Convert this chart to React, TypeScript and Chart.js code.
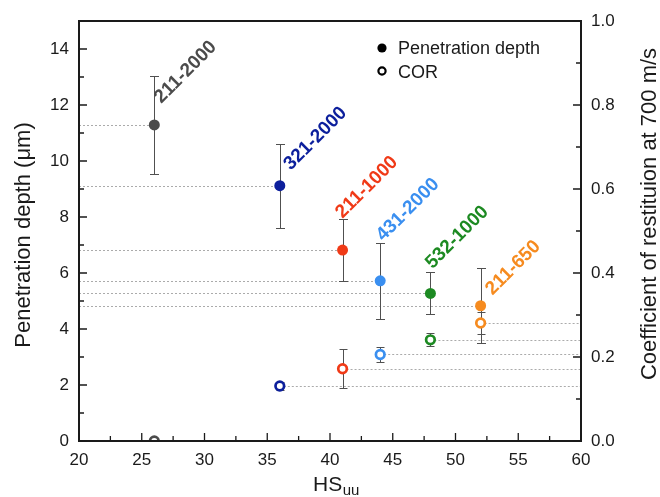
import { useEffect, useRef } from "react";
import { Chart, registerables } from "chart.js";

Chart.register(...registerables);

// ---- data ----
const sampleLabels = ["211-2000", "321-2000", "211-1000", "431-2000", "532-1000", "211-650"];
const hsValues = [26, 36, 41, 44, 48, 52];
const penetrationDepth = [11.29, 9.12, 6.82, 5.72, 5.27, 4.83];
const penetrationErr = [1.75, 1.5, 1.12, 1.35, 0.75, 1.34];
const corValues = [0.0, 0.131, 0.172, 0.206, 0.241, 0.281];
const corErr = [0, 0.01, 0.046, 0.017, 0.015, 0.026];
const seriesColors = ["#4b4b4b", "#0c1f9c", "#f03a17", "#3a8ff0", "#1d8a22", "#f68b1f"];
const xTickValues = [20, 25, 30, 35, 40, 45, 50, 55, 60];
const yTickValues = [0, 2, 4, 6, 8, 10, 12, 14];
const y1TickValues = [0, 0.2, 0.4, 0.6, 0.8, 1.0];
// pixel offsets of the rotated sample labels from their points
const labelOffsets = [
  [7, -21],
  [11, -15],
  [0, -31],
  [3, -39],
  [2, -24],
  [12, -10],
];

const FONT = "'Liberation Sans', Arial, Helvetica, sans-serif";
const INK = "#1a1a1a";

function midpoints(arr: number[]) {
  const out: number[] = [];
  for (let i = 0; i < arr.length - 1; i++) out.push((arr[i] + arr[i + 1]) / 2);
  return out;
}

const decor = {
  id: "decor",
  beforeDatasetsDraw(chart: any) {
    const { ctx, chartArea: a, scales } = chart;
    const xs = scales.x, ys = scales.y, y1s = scales.y1;
    ctx.save();
    ctx.beginPath();
    ctx.rect(a.left, a.top, a.right - a.left, a.bottom - a.top);
    ctx.clip();
    // dotted guide lines
    ctx.setLineDash([2, 2]);
    ctx.strokeStyle = "#ababab";
    ctx.lineWidth = 1;
    hsValues.forEach((h, i) => {
      const px = xs.getPixelForValue(h);
      const py = Math.round(ys.getPixelForValue(penetrationDepth[i])) + 0.5;
      ctx.beginPath();
      ctx.moveTo(a.left, py);
      ctx.lineTo(px, py);
      ctx.stroke();
      const cy = Math.round(y1s.getPixelForValue(corValues[i])) + 0.5;
      ctx.beginPath();
      ctx.moveTo(px, cy);
      ctx.lineTo(a.right, cy);
      ctx.stroke();
    });
    ctx.setLineDash([]);
    // error bars
    ctx.strokeStyle = "#505050";
    ctx.lineWidth = 1;
    const bar = (px: number, top: number, bot: number, cap: number) => {
      const x = Math.round(px) + 0.5;
      const t = Math.round(top) + 0.5;
      const b = Math.round(bot) + 0.5;
      ctx.beginPath();
      ctx.moveTo(x, t);
      ctx.lineTo(x, b);
      ctx.moveTo(x - cap, t);
      ctx.lineTo(x + cap, t);
      ctx.moveTo(x - cap, b);
      ctx.lineTo(x + cap, b);
      ctx.stroke();
    };
    hsValues.forEach((h, i) => {
      const px = xs.getPixelForValue(h);
      if (penetrationErr[i] > 0)
        bar(
          px,
          ys.getPixelForValue(penetrationDepth[i] + penetrationErr[i]),
          ys.getPixelForValue(penetrationDepth[i] - penetrationErr[i]),
          4.5
        );
      if (corErr[i] > 0)
        bar(
          px,
          y1s.getPixelForValue(corValues[i] + corErr[i]),
          y1s.getPixelForValue(corValues[i] - corErr[i]),
          4
        );
    });
    ctx.restore();
  },
  afterDatasetsDraw(chart: any) {
    const { ctx, chartArea: a, scales } = chart;
    const xs = scales.x, ys = scales.y, y1s = scales.y1;
    ctx.save();
    // frame
    ctx.strokeStyle = INK;
    ctx.lineWidth = 2;
    ctx.strokeRect(a.left, a.top, a.right - a.left, a.bottom - a.top);
    // inward ticks
    ctx.lineWidth = 1.3;
    const major = 8, minor = 5;
    ctx.beginPath();
    xTickValues.forEach((v) => {
      const p = xs.getPixelForValue(v);
      ctx.moveTo(p, a.bottom);
      ctx.lineTo(p, a.bottom - major);
    });
    midpoints(xTickValues).forEach((v) => {
      const p = xs.getPixelForValue(v);
      ctx.moveTo(p, a.bottom);
      ctx.lineTo(p, a.bottom - minor);
    });
    yTickValues.forEach((v) => {
      const p = ys.getPixelForValue(v);
      ctx.moveTo(a.left, p);
      ctx.lineTo(a.left + major, p);
    });
    midpoints(yTickValues).forEach((v) => {
      const p = ys.getPixelForValue(v);
      ctx.moveTo(a.left, p);
      ctx.lineTo(a.left + minor, p);
    });
    y1TickValues.forEach((v) => {
      const p = y1s.getPixelForValue(v);
      ctx.moveTo(a.right, p);
      ctx.lineTo(a.right - major, p);
    });
    midpoints(y1TickValues).forEach((v) => {
      const p = y1s.getPixelForValue(v);
      ctx.moveTo(a.right, p);
      ctx.lineTo(a.right - minor, p);
    });
    ctx.stroke();

    // rotated sample labels
    ctx.font = `bold 19px ${FONT}`;
    ctx.textAlign = "left";
    ctx.textBaseline = "alphabetic";
    hsValues.forEach((h, i) => {
      const px = xs.getPixelForValue(h) + labelOffsets[i][0];
      const py = ys.getPixelForValue(penetrationDepth[i]) + labelOffsets[i][1];
      ctx.save();
      ctx.translate(px, py);
      ctx.rotate(-Math.PI / 4);
      ctx.fillStyle = seriesColors[i];
      ctx.fillText(sampleLabels[i], 0, 0);
      ctx.restore();
    });

    // legend
    const lx = a.right - 199;
    ctx.fillStyle = "#000";
    ctx.beginPath();
    ctx.arc(lx, 48, 4.6, 0, Math.PI * 2);
    ctx.fill();
    ctx.strokeStyle = "#000";
    ctx.lineWidth = 2.2;
    ctx.beginPath();
    ctx.arc(lx, 71, 3.6, 0, Math.PI * 2);
    ctx.stroke();
    ctx.font = `18px ${FONT}`;
    ctx.fillStyle = INK;
    ctx.fillText("Penetration depth", lx + 16, 54);
    ctx.fillText("COR", lx + 16, 77.5);

    // axis titles
    ctx.font = `21px ${FONT}`;
    ctx.fillStyle = INK;
    ctx.textAlign = "left";
    const hsW = ctx.measureText("HS").width;
    ctx.font = `15px ${FONT}`;
    const uuW = ctx.measureText("uu").width;
    const startX = (a.left + a.right) / 2 + 6 - (hsW + uuW) / 2;
    ctx.font = `21px ${FONT}`;
    ctx.fillText("HS", startX, 491);
    ctx.font = `15px ${FONT}`;
    ctx.fillText("uu", startX + hsW + 0.5, 495);

    ctx.font = `22px ${FONT}`;
    ctx.textAlign = "center";
    ctx.save();
    ctx.translate(30, 235);
    ctx.rotate(-Math.PI / 2);
    ctx.fillText("Penetration depth (\u03bcm)", 0, 0);
    ctx.restore();
    ctx.save();
    ctx.translate(656, 214);
    ctx.rotate(-Math.PI / 2);
    ctx.fillText("Coefficient of restituion at 700 m/s", 0, 0);
    ctx.restore();
    ctx.restore();
  },
};

export default function App() {
  const ref = useRef<HTMLCanvasElement>(null);
  useEffect(() => {
    const tickFont = { family: FONT, size: 17 };
    const chart = new Chart(ref.current as HTMLCanvasElement, {
      type: "scatter",
      data: {
        datasets: [
          {
            label: "Penetration depth",
            data: hsValues.map((h, i) => ({ x: h, y: penetrationDepth[i] })),
            yAxisID: "y",
            pointRadius: 5.5,
            pointBackgroundColor: seriesColors,
            pointBorderColor: seriesColors,
            pointBorderWidth: 0,
            showLine: false,
          },
          {
            label: "COR",
            data: hsValues.map((h, i) => ({ x: h, y: corValues[i] })),
            yAxisID: "y1",
            pointRadius: 4.3,
            pointBackgroundColor: "#ffffff",
            pointBorderColor: seriesColors,
            pointBorderWidth: 2.7,
            showLine: false,
            clip: 0,
          },
        ],
      },
      options: {
        responsive: false,
        animation: false,
        events: [],
        layout: { padding: { top: 21, left: 0, right: 0, bottom: 0 } },
        plugins: { legend: { display: false }, tooltip: { enabled: false } },
        scales: {
          x: {
            type: "linear",
            position: "bottom",
            min: 20,
            max: 60,
            grid: { display: false, drawTicks: false },
            border: { display: false },
            ticks: { font: tickFont, color: INK, padding: 9 },
            afterBuildTicks: (s: any) => {
              s.ticks = xTickValues.map((v) => ({ value: v }));
            },
            afterFit: (s: any) => {
              s.height = 56;
            },
          },
          y: {
            type: "linear",
            position: "left",
            min: 0,
            max: 15,
            grid: { display: false, drawTicks: false },
            border: { display: false },
            ticks: { font: tickFont, color: INK, padding: 10 },
            afterBuildTicks: (s: any) => {
              s.ticks = yTickValues.map((v) => ({ value: v }));
            },
            afterFit: (s: any) => {
              s.width = 79;
            },
          },
          y1: {
            type: "linear",
            position: "right",
            min: 0,
            max: 1,
            grid: { display: false, drawTicks: false },
            border: { display: false },
            ticks: {
              font: tickFont,
              color: INK,
              padding: 10,
              callback: (v: any) => Number(v).toFixed(1),
            },
            afterBuildTicks: (s: any) => {
              s.ticks = y1TickValues.map((v) => ({ value: v }));
            },
            afterFit: (s: any) => {
              s.width = 79;
            },
          },
        },
      },
      plugins: [decor],
    } as any);
    return () => chart.destroy();
  }, []);
  return (
    <div style={{ position: "fixed", left: 0, top: 0, width: 660, height: 497, background: "#fff" }}>
      <canvas ref={ref} width={660} height={497} style={{ display: "block" }} />
    </div>
  );
}
